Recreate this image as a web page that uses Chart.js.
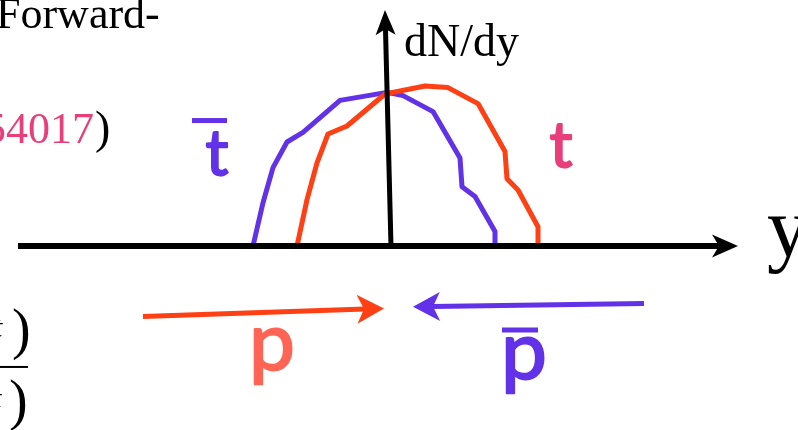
<!DOCTYPE html>
<html>
<head>
<meta charset="utf-8">
<script src="https://cdn.jsdelivr.net/npm/chart.js@4"></script>
<style>
  html, body { margin: 0; padding: 0; background: #fff; }
  #wrap { width: 798px; height: 430px; }
</style>
</head>
<body>
<div id="wrap"><canvas id="dndy" width="798" height="430"></canvas></div>
<script>
// rapidity (x) and dN/dy (y), axis crossing at 0
const tbarRapidity = [-2.72, -2.52, -2.32, -2.04, -1.72, -0.98, -0.04, 0.28, 0.88, 1.42, 1.46, 1.72, 2.12, 2.12];
const tbarDensity  = [0.0, 0.27, 0.49, 0.65, 0.71, 0.91, 0.96, 0.94, 0.84, 0.55, 0.37, 0.31, 0.09, 0.0];
const tRapidity    = [-1.84, -1.64, -1.44, -1.22, -0.84, -0.08, 0.72, 1.18, 1.78, 2.32, 2.36, 2.58, 2.98, 2.98];
const tDensity     = [0.0, 0.29, 0.52, 0.70, 0.75, 0.95, 1.0, 0.99, 0.89, 0.59, 0.42, 0.35, 0.12, 0.0];

// beam arrows (tail -> tip)
const protonBeamX = [-4.92, -0.10];
const protonBeamY = [-0.44, -0.39];
const antiprotonBeamX = [5.10, 0.48];
const antiprotonBeamY = [-0.36, -0.38];

// axes (tail -> tip)
const rapidityAxisX = [-7.42, 6.98];
const rapidityAxisY = [0, 0];
const densityAxisX = [0.04, -0.08];
const densityAxisY = [0, 1.475];

const PURPLE = 'rgb(98, 50, 232)';
const RED = 'rgb(255, 64, 20)';
const PINK = 'rgb(232, 62, 122)';
const SALMON = 'rgb(255, 100, 84)';

const toPoints = (xs, ys) => xs.map((v, i) => ({ x: v, y: ys[i] }));

// text pieces of the figure (data coordinates)
const labels = [
  { text: 'dN/dy', x: 0.30, y: 1.19, font: '46px "Liberation Serif"', color: '#000', align: 'left' },
  { text: 'y', x: 7.56, y: -0.06, font: '84px "Liberation Serif"', color: '#000', align: 'left' },
  { text: 'Forward-', x: -7.86, y: 1.36, font: '44px "Liberation Serif"', color: '#000', align: 'left' },
  { text: '54017', x: -5.90, y: 0.645, font: '44px "Liberation Serif"', color: PINK, align: 'right' },
  { text: ')', x: -5.88, y: 0.645, font: '46px "Liberation Serif"', color: '#000', align: 'left' },
  { text: 't', x: -3.44, y: 0.445, font: '64px Lato', color: PURPLE, align: 'center', heavy: 2, bar: [-3.94, -3.24, 0.784] },
  { text: 't', x: 3.44, y: 0.494, font: '64px Lato', color: PINK, align: 'center', heavy: 2 },
  { text: 'p', x: -2.34, y: -0.775, font: '82px Lato', color: SALMON, align: 'center', heavy: 2 },
  { text: 'p', x: 2.70, y: -0.83, font: '82px Lato', color: PURPLE, align: 'center', heavy: 2, bar: [2.26, 2.98, -0.525] },
  { text: 't', x: -7.90, y: -0.57, font: 'italic 30px "Liberation Serif"', color: '#000', align: 'left' },
  { text: ')', x: -7.54, y: -0.64, font: '56px "Liberation Serif"', color: '#000', align: 'left' },
  { text: 't', x: -7.92, y: -1.01, font: 'italic 30px "Liberation Serif"', color: '#000', align: 'left' },
  { text: ')', x: -7.60, y: -1.08, font: '56px "Liberation Serif"', color: '#000', align: 'left' }
];

// fraction bar bottom left
const fractionX = [-7.80, -7.22];
const fractionY = [-0.756, -0.756];

const sketchPlugin = {
  id: 'sketch',
  afterDatasetsDraw(chart) {
    const { ctx, scales: { x, y } } = chart;

    // arrows: shaft ends at the notch, head on top
    chart.data.datasets.forEach(ds => {
      if (!ds.arrow) return;
      const [a, b] = ds.data;
      const x1 = x.getPixelForValue(a.x), y1 = y.getPixelForValue(a.y);
      const x2 = x.getPixelForValue(b.x), y2 = y.getPixelForValue(b.y);
      const ang = Math.atan2(y2 - y1, x2 - x1);
      const len = Math.hypot(x2 - x1, y2 - y1);
      const { length, width, notch, lineWidth } = ds.arrow;
      ctx.save();
      ctx.translate(x1, y1);
      ctx.rotate(ang);
      ctx.strokeStyle = ds.arrow.color;
      ctx.fillStyle = ds.arrow.color;
      ctx.lineWidth = lineWidth;
      ctx.beginPath();
      ctx.moveTo(0, 0);
      ctx.lineTo(len - length + notch + 1, 0);
      ctx.stroke();
      ctx.translate(len, 0);
      ctx.beginPath();
      ctx.moveTo(0, 0);
      ctx.lineTo(-length, -width / 2);
      ctx.lineTo(-length + notch, 0);
      ctx.lineTo(-length, width / 2);
      ctx.closePath();
      ctx.fill();
      ctx.restore();
    });

    labels.forEach(l => {
      const px = x.getPixelForValue(l.x), py = y.getPixelForValue(l.y);
      ctx.save();
      ctx.font = l.font;
      ctx.fillStyle = l.color;
      ctx.strokeStyle = l.color;
      ctx.textAlign = l.align;
      ctx.textBaseline = 'alphabetic';
      ctx.fillText(l.text, px, py);
      if (l.heavy) {
        // a little heavier than the regular face
        ctx.lineWidth = l.heavy;
        ctx.lineJoin = 'round';
        ctx.strokeText(l.text, px, py);
      }
      if (l.bar) {
        const bx0 = x.getPixelForValue(l.bar[0]), bx1 = x.getPixelForValue(l.bar[1]);
        const by = y.getPixelForValue(l.bar[2]);
        ctx.fillRect(bx0, by - 2.5, bx1 - bx0, 5);
      }
      ctx.restore();
    });
  }
};

const ctx = document.getElementById('dndy').getContext('2d');
new Chart(ctx, {
  type: 'scatter',
  data: {
    datasets: [
      {
        label: 'rapidity axis',
        data: toPoints(rapidityAxisX, rapidityAxisY),
        showLine: false, pointRadius: 0,
        arrow: { color: '#000', length: 26, width: 23, notch: 7, lineWidth: 6 }
      },
      {
        label: 'dN/dy axis',
        data: toPoints(densityAxisX, densityAxisY),
        showLine: false, pointRadius: 0,
        arrow: { color: '#000', length: 25, width: 20, notch: 6, lineWidth: 5 }
      },
      {
        label: 'p',
        data: toPoints(protonBeamX, protonBeamY),
        showLine: false, pointRadius: 0,
        arrow: { color: RED, length: 27, width: 29, notch: 7, lineWidth: 5 }
      },
      {
        label: 'pbar',
        data: toPoints(antiprotonBeamX, antiprotonBeamY),
        showLine: false, pointRadius: 0,
        arrow: { color: PURPLE, length: 27, width: 29, notch: 7, lineWidth: 5 }
      },
      {
        label: 'fraction',
        data: toPoints(fractionX, fractionY),
        showLine: true, pointRadius: 0,
        borderColor: '#000', borderWidth: 2
      },
      {
        label: 't',
        data: toPoints(tRapidity, tDensity),
        showLine: true, pointRadius: 0,
        borderColor: RED, borderWidth: 5,
        borderJoinStyle: 'round'
      },
      {
        label: 'tbar',
        data: toPoints(tbarRapidity, tbarDensity),
        showLine: true, pointRadius: 0,
        borderColor: PURPLE, borderWidth: 5,
        borderJoinStyle: 'round'
      }
    ]
  },
  options: {
    responsive: false,
    animation: false,
    layout: { padding: 0 },
    plugins: {
      legend: { display: false },
      tooltip: { enabled: false }
    },
    scales: {
      x: { type: 'linear', display: false, min: -7.78, max: 8.18 },
      y: { type: 'linear', display: false, min: -1.15, max: 1.5375 }
    }
  },
  plugins: [sketchPlugin]
});
</script>
</body>
</html>
